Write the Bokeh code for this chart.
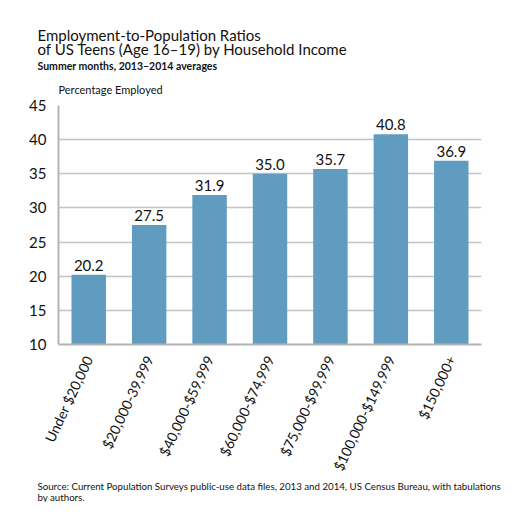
from bokeh.plotting import figure
from bokeh.models import ColumnDataSource, Title, LabelSet, Range1d, FactorRange, FixedTicker
from bokeh.core.properties import value
from bokeh.embed import file_html
from bokeh.resources import INLINE

categories = ["Under $20,000", "$20,000-39,999", "$40,000-$59,999", "$60,000-$74,999",
              "$75,000-$99,999", "$100,000-$149,999", "$150,000+"]
ratios = [20.2, 27.5, 31.9, 35.0, 35.7, 40.8, 36.9]
ratio_labels = ["20.2", "27.5", "31.9", "35.0", "35.7", "40.8", "36.9"]
y_ticks = [10, 15, 20, 25, 30, 35, 40, 45]

title_text = "Employment-to-Population Ratios\nof US Teens (Age 16\u201319) by Household Income"
subtitle = "Summer months, 2013\u20132014 averages"
y_title = "Percentage Employed"
source_text = ("Source: Current Population Surveys public-use data files, 2013 and 2014, US Census Bureau, with tabulations\n"
               "by authors.")

FONT = "Lato"
src = ColumnDataSource(dict(cat=categories, val=ratios, lab=ratio_labels))

p = figure(width=515, height=502, x_range=FactorRange(*categories), y_range=Range1d(10, 45),
           output_backend="svg", toolbar_location=None,
           min_border_left=58, min_border_right=34, min_border_top=105, min_border_bottom=158)
p.outline_line_color = None
p.background_fill_color = "white"

p.vbar(x="cat", top="val", bottom=10, width=0.57, source=src, color="#5f9cbf", line_color=None)

p.add_layout(LabelSet(x="cat", y="val", text="lab", source=src, y_offset=4,
                      text_align="center", text_baseline="alphabetic",
                      text_font=value(FONT), text_font_size="15px", text_color="#111111"))

p.xgrid.grid_line_color = None
p.ygrid.grid_line_color = "#c4c4c4"
p.ygrid.grid_line_width = 1.5
p.yaxis.ticker = FixedTicker(ticks=y_ticks)

for ax in (p.xaxis, p.yaxis):
    ax.axis_line_color = "#b4b4b4"
    ax.axis_line_width = 2
    ax.major_tick_line_color = None
    ax.minor_tick_line_color = None
    ax.major_label_text_font = FONT
    ax.major_label_text_color = "#111111"

p.yaxis.major_label_text_font_size = "15px"
p.yaxis.major_label_standoff = 6
p.xaxis.major_label_text_font_size = "14px"
p.xaxis.major_label_orientation = 1.13
p.xaxis.major_label_standoff = 6

def add_title(txt, place, size, offset, standoff, style="normal", lh=1.0):
    p.add_layout(Title(text=txt, align="left", offset=offset, standoff=standoff,
                       text_font=FONT, text_font_size=size, text_font_style=style,
                       text_line_height=lh, text_color="#111111"), place)

# above: first added sits closest to the plot
add_title(y_title, "above", "11px", 0, 19)
add_title(subtitle, "above", "10.5px", -21, -1, "bold")
add_title(title_text, "above", "15px", -21, 0, lh=0.82)
# below: after the axis
add_title(source_text, "below", "9.7px", -21, -5, lh=0.92)

open("out.html", "w").write(file_html(p, INLINE))
